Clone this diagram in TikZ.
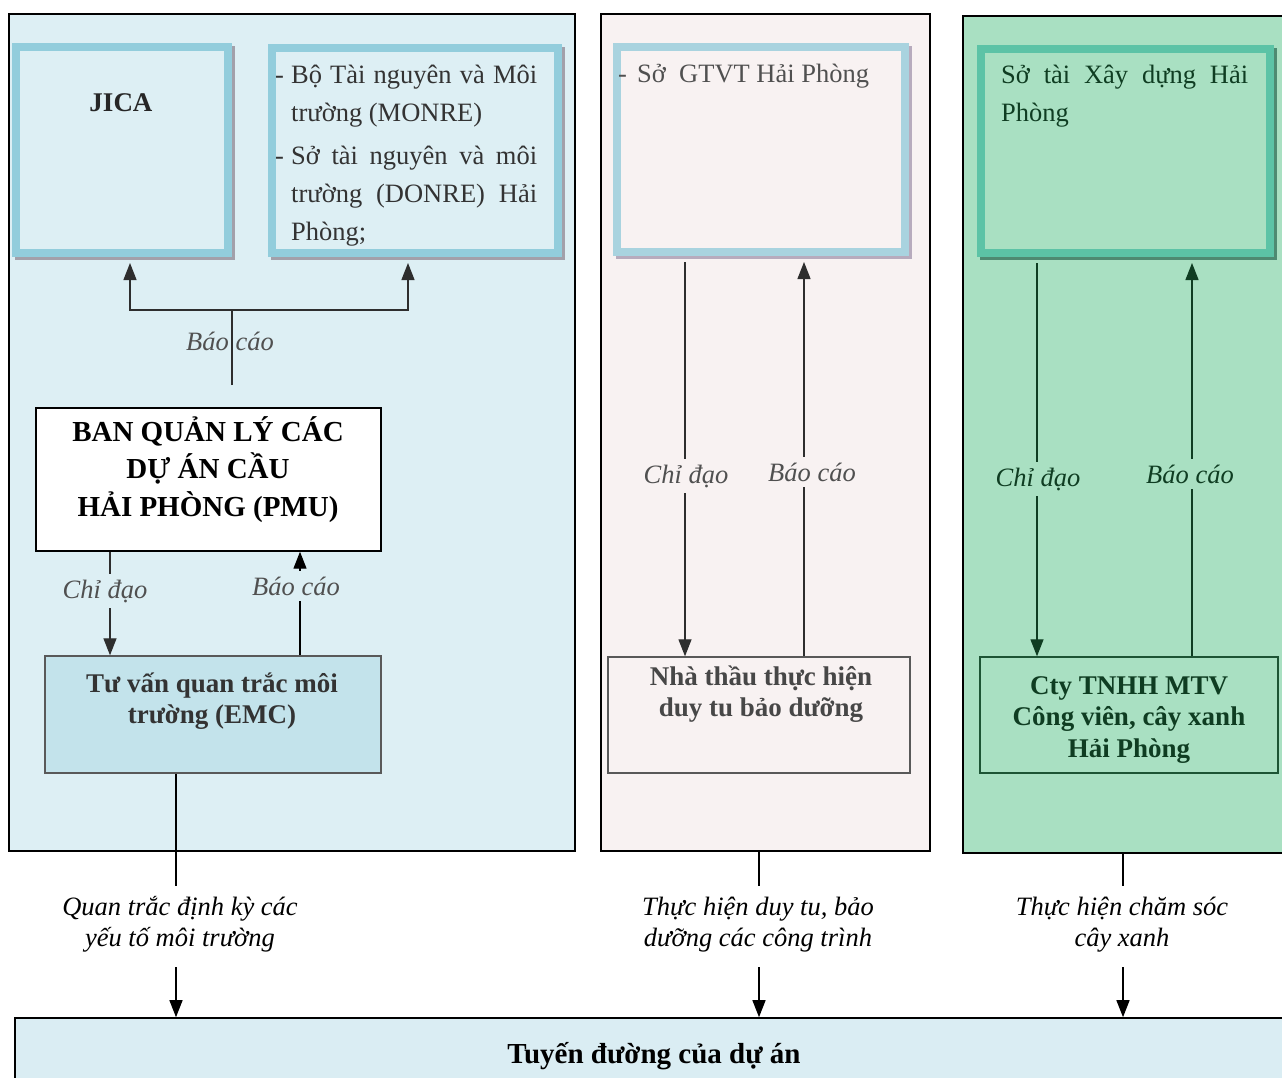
\documentclass[tikz,border=0pt]{standalone}
\usepackage{fontspec}
\setmainfont{Liberation Serif}
\usetikzlibrary{arrows.meta,shadows}

\definecolor{paneblue}{HTML}{DDEFF4}
\definecolor{panerose}{HTML}{F8F2F2}
\definecolor{panegreen}{HTML}{A9E0C2}
\definecolor{rimblue}{HTML}{92CDDC}
\definecolor{rimpale}{HTML}{A9D3DF}
\definecolor{rimteal}{HTML}{5CC3A6}
\definecolor{emcfill}{HTML}{C3E3EB}
\definecolor{roadfill}{HTML}{DAEDF3}
\definecolor{greenink}{HTML}{0F3D22}
\definecolor{greenrule}{HTML}{1D5434}
\definecolor{inkgrey}{HTML}{333333}
\definecolor{labgrey}{HTML}{505050}
\definecolor{linegrey}{HTML}{2E2E2E}
\definecolor{boxgrey}{HTML}{595959}
\definecolor{shadegrey}{HTML}{A2A0AA}
\definecolor{shadeplum}{HTML}{B7ABBD}
\definecolor{shadeteal}{HTML}{4E8A72}

\tikzset{bigtip/.tip={Triangle[length=17pt,width=13pt]}}

\begin{document}
\begin{tikzpicture}[x=1pt,y=-1pt,
  panel/.style={draw=black,line width=1.6pt,inner sep=0pt},
  rimbox/.style={draw=#1,line width=8pt,inner sep=0pt},
  rimshadow/.style={copy shadow={shadow xshift=3pt,shadow yshift=-3pt,draw=#1,fill=none,line width=8pt}},
  plainbox/.style={draw=#1,line width=1.4pt,inner sep=0pt},
  regtxt/.style={font=\fontsize{26.5}{38}\selectfont,inner sep=0pt},
  boldtxt/.style={font=\fontsize{27}{31.5}\selectfont\bfseries,inner sep=0pt},
  lbl/.style={font=\fontsize{26.5}{31}\selectfont\itshape,inner xsep=3pt,inner ysep=6pt},
  arr/.style={-bigtip,line width=1.3pt},
  conn/.style={line width=1.3pt},
]
\useasboundingbox (0,0) rectangle (1282,1077);
\clip (0,0) rectangle (1282,1077);
\fill[white] (0,0) rectangle (1282,1077);

% the three responsibility panels
\node[panel,fill=paneblue,minimum width=566pt,minimum height=837pt] (pL) at (292,432.5) {};
\node[panel,fill=panerose,minimum width=329pt,minimum height=837pt] (pM) at (765.5,432.5) {};
\node[panel,fill=panegreen,minimum width=340pt,minimum height=837pt] (pR) at (1133,434.5) {};

% road strip at the foot
\node[panel,fill=roadfill,minimum width=1290pt,minimum height=80pt] (road) at (660,1058) {};
\node[font=\fontsize{29}{34}\selectfont\bfseries,inner sep=0pt,anchor=base] (roadt) at (654,1063) {Tuyến đường của dự án};

% framed authority boxes
\node[rimbox=rimblue,rimshadow=shadegrey,fill=paneblue,minimum width=212pt,minimum height=206pt] (jica) at (122,150) {};
\node[rimbox=rimblue,rimshadow=shadegrey,fill=paneblue,minimum width=286pt,minimum height=205pt] (mon) at (415,150.5) {};
\node[rimbox=rimpale,rimshadow=shadeplum,fill=panerose,minimum width=288pt,minimum height=205pt] (gtvt) at (761,149.5) {};
\node[rimbox=rimteal,rimshadow=shadeteal,fill=panegreen,minimum width=289pt,minimum height=204pt] (sxd) at (1125.5,151) {};

\node[boldtxt,text=black!85,anchor=base] (jicat) at (121,111) {JICA};
\node[regtxt,text=inkgrey,anchor=base west] (mont) at (275,83) {%
  \begin{tabular}[t]{@{}l@{}}
  \makebox[16pt][l]{-}\makebox[246pt][s]{Bộ Tài nguyên và Môi}\\
  \hspace*{16pt}trường (MONRE)\\[5pt]
  \makebox[16pt][l]{-}\makebox[246pt][s]{Sở tài nguyên và môi}\\
  \hspace*{16pt}\makebox[246pt][s]{trường (DONRE) Hải}\\
  \hspace*{16pt}Phòng;
  \end{tabular}};
\node[regtxt,text=labgrey,anchor=base west] (gtvtt) at (618,82) {\makebox[19pt][l]{-}Sở\ \ GTVT Hải Phòng};
\node[regtxt,text=greenink,anchor=base west] (sxdt) at (1001,83) {%
  \begin{tabular}[t]{@{}l@{}}
  \makebox[247pt][s]{Sở tài Xây dựng Hải}\\
  Phòng
  \end{tabular}};

% project management unit and monitoring consultant
\node[plainbox=black,fill=white,minimum width=345pt,minimum height=143pt] (pmu) at (208.5,479.5) {};
\node[font=\fontsize{29}{37.5}\selectfont\bfseries,inner sep=0pt,anchor=base] (pmut) at (208,441) {%
  \begin{tabular}[t]{@{}c@{}}BAN QUẢN LÝ CÁC\\ DỰ ÁN CẦU\\ HẢI PHÒNG (PMU)\end{tabular}};
\node[plainbox=boxgrey,fill=emcfill,minimum width=336pt,minimum height=117pt] (emc) at (213,714.5) {};
\node[boldtxt,text=inkgrey,anchor=base] (emct) at (212,692) {%
  \begin{tabular}[t]{@{}c@{}}Tư vấn quan trắc môi\\ trường (EMC)\end{tabular}};

% maintenance contractor and park company
\node[plainbox=boxgrey,fill=panerose,minimum width=302pt,minimum height=116pt] (nt) at (759,715) {};
\node[boldtxt,text=inkgrey!90,anchor=base] (ntt) at (761,685) {%
  \begin{tabular}[t]{@{}c@{}}Nhà thầu thực hiện\\ duy tu bảo dưỡng\end{tabular}};
\node[plainbox=greenrule,fill=panegreen,minimum width=298pt,minimum height=116pt] (cty) at (1129,715) {};
\node[boldtxt,text=greenink,anchor=base] (ctyt) at (1129,694) {%
  \begin{tabular}[t]{@{}c@{}}Cty TNHH MTV\\ Công viên, cây xanh\\ Hải Phòng\end{tabular}};

% reporting to JICA and MONRE/DONRE
\coordinate (bcs) at (232,385);
\coordinate (bcl) at (130,310);
\coordinate (bcr) at (408,310);
\draw[conn,draw=linegrey,bigtip-bigtip,shorten <=6pt,shorten >=6pt]
  (bcl |- jica.south) -- (bcl) -- (bcr) -- (bcr |- mon.south);
\draw[conn,draw=linegrey] (bcs) -- (bcs |- bcl);
\node[lbl,text=labgrey,anchor=base] (bct) at (230,350) {Báo cáo};

% PMU <-> EMC
\coordinate (colA) at (110,0);
\coordinate (colB) at (300,0);
\draw[arr,draw=linegrey] (pmu.south -| colA) -- (emc.north -| colA);
\draw[arr,draw=black] (emc.north -| colB) -- (pmu.south -| colB);
\node[lbl,fill=paneblue,text=labgrey,anchor=base] (cd1) at (105,598) {Chỉ đạo};
\node[lbl,fill=paneblue,text=labgrey,anchor=base] (bc1) at (296,595) {Báo cáo};

% transport department <-> contractor
\coordinate (colC) at (685,0);
\coordinate (colD) at (804,0);
\draw[arr,draw=linegrey,shorten <=6pt] (gtvt.south -| colC) -- (nt.north -| colC);
\draw[arr,draw=linegrey,shorten >=6pt] (nt.north -| colD) -- (gtvt.south -| colD);
\node[lbl,fill=panerose,text=labgrey,anchor=base] (cd2) at (686,483) {Chỉ đạo};
\node[lbl,fill=panerose,text=labgrey,anchor=base] (bc2) at (812,481) {Báo cáo};

% construction department <-> park company
\coordinate (colE) at (1037,0);
\coordinate (colF) at (1192,0);
\draw[arr,draw=greenink,shorten <=6pt] (sxd.south -| colE) -- (cty.north -| colE);
\draw[arr,draw=greenink,shorten >=6pt] (cty.north -| colF) -- (sxd.south -| colF);
\node[lbl,fill=panegreen,text=greenink,anchor=base] (cd3) at (1038,486) {Chỉ đạo};
\node[lbl,fill=panegreen,text=greenink,anchor=base] (bc3) at (1190,483) {Báo cáo};

% field work on the road
\coordinate (q1) at (176,886);
\coordinate (q2) at (176,967);
\coordinate (t1) at (759,886);
\coordinate (t2) at (759,967);
\coordinate (c1) at (1123,886);
\coordinate (c2) at (1123,967);
\draw[conn] (emc.south -| q1) -- (q1);
\draw[arr] (q2) -- (road.north -| q2);
\draw[conn] (pM.south -| t1) -- (t1);
\draw[arr] (t2) -- (road.north -| t2);
\draw[conn] (pR.south -| c1) -- (c1);
\draw[arr] (c2) -- (road.north -| c2);
\node[lbl,inner sep=0pt,anchor=base] (qlab) at (180,915) {%
  \begin{tabular}[t]{@{}c@{}}Quan trắc định kỳ các\\ yếu tố môi trường\end{tabular}};
\node[lbl,inner sep=0pt,anchor=base] (tlab) at (758,915) {%
  \begin{tabular}[t]{@{}c@{}}Thực hiện duy tu, bảo\\ dưỡng các công trình\end{tabular}};
\node[lbl,inner sep=0pt,anchor=base] (clab) at (1122,915) {%
  \begin{tabular}[t]{@{}c@{}}Thực hiện chăm sóc\\ cây xanh\end{tabular}};
\end{tikzpicture}
\end{document}
